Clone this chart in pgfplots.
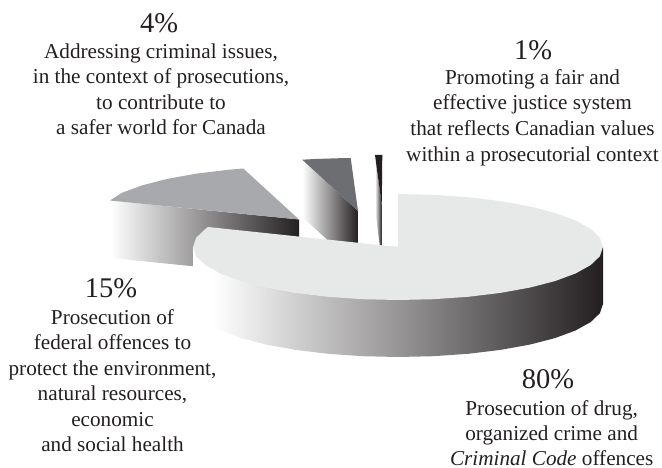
\documentclass[border=0pt]{standalone}
\usepackage{fontspec}
\setmainfont{Liberation Serif}
\usepackage{pgfplots}
\pgfplotsset{compat=1.18}
\definecolor{ink}{HTML}{231F20}
\definecolor{topbig}{HTML}{E7E8E8}
\definecolor{topfed}{HTML}{A7A9AC}
\definecolor{topcrim}{HTML}{6D6E71}
\pgfdeclarehorizontalshading{wallbig}{100bp}{color(0bp)=(white); color(27.4bp)=(white); color(75bp)=(ink); color(100bp)=(ink)}
\newcommand{\pct}[3]{\node[anchor=base,text=ink,font=\fontsize{28.5}{28.5}\selectfont,inner sep=0pt] at (axis cs:#1,#2) {#3};}
\newcommand{\lbl}[3]{\node[anchor=base,text=ink,font=\fontsize{21.2}{21.2}\selectfont,inner sep=0pt] at (axis cs:#1,#2) {#3};}
\begin{document}
\begin{tikzpicture}
\path[use as bounding box] (0pt,0pt) rectangle (662pt,468pt);
\begin{axis}[
    anchor=south west, at={(0pt,0pt)},
    width=662pt, height=468pt, scale only axis,
    xmin=0, xmax=662, ymin=0, ymax=468, y dir=reverse,
    hide axis, clip=false,
]
% 15% slice
\addplot[draw=none, left color=white, right color=ink] coordinates {
    (110,200.5) (299,219.5) (299.5,277) (111,258)
};
\addplot[draw=none, fill=topfed] coordinates {
    (299,219.5) (243.3,168.5) (228.9,169.7) (196.5,173.6) (167.2,178.9)
    (142,185.4) (121.5,193) (110,200.5)
};
% 4% slice
\addplot[draw=none, left color=white, right color=ink] coordinates {
    (302.3,159.7) (358,211) (358,268) (303.5,218)
};
\addplot[draw=none, fill=topcrim] coordinates {
    (358,211) (302.3,159.7) (315,159) (328,158.6) (340,158.2) (350.7,158)
};
% 1% slice
\addplot[draw=none, left color=white, right color=ink] coordinates {
    (375,155) (381.8,205) (381.8,262) (375.5,212)
};
\addplot[draw=none, fill=ink] coordinates {
    (375,155) (382.3,155) (381.8,205)
};
% 80% slice
\addplot[draw=none, shading=wallbig] coordinates {
    (603,247) (603,304) (599.9,313.2) (590.6,322.1) (575.5,330.5) (555,338.1)
    (529.8,344.6) (500.5,349.9) (468.1,353.8) (433.6,356.2) (398,357)
    (362.4,356.2) (327.9,353.8) (295.5,349.9) (266.2,344.6) (241,338.1)
    (220.5,330.5) (205.4,322.1) (196.1,313.2) (193,304) (193,247)
};
\addplot[draw=none, fill=topbig] coordinates {
    (398,247) (398,194) (433.6,194.8) (468.1,197.2) (500.5,201.1) (529.8,206.4)
    (555,212.9) (575.5,220.5) (590.6,228.9) (599.9,237.8) (603,247)
    (599.9,256.2) (590.6,265.1) (575.5,273.5) (555,281.1) (529.8,287.6)
    (500.5,292.9) (468.1,296.8) (433.6,299.2) (398,300) (362.4,299.2)
    (327.9,296.8) (295.5,292.9) (266.2,287.6) (241,281.1) (220.5,273.5)
    (205.4,265.1) (196.1,256.2) (193,247) (196.1,237.8) (205.4,228.9) (208,227)
};
% labels
\pct{159}{33}{4\%}
\lbl{161}{58.3}{Addressing criminal issues,}
\lbl{161}{84}{in the context of prosecutions,}
\lbl{161}{110}{to contribute to}
\lbl{161}{135}{a safer world for Canada}
\pct{533}{59.3}{1\%}
\lbl{532.5}{85}{Promoting a fair and}
\lbl{532.5}{110}{effective justice system}
\lbl{532.5}{136}{that reflects Canadian values}
\lbl{532.5}{161.7}{within a prosecutorial context}
\pct{111}{298}{15\%}
\lbl{112.5}{324}{Prosecution of}
\lbl{112.5}{349}{federal offences to}
\lbl{112.5}{375}{protect the environment,}
\lbl{112.5}{400.7}{natural resources,}
\lbl{112.5}{426.7}{economic}
\lbl{112.5}{451.7}{and social health}
\pct{548}{388}{80\%}
\lbl{551.7}{415}{Prosecution of drug,}
\lbl{551.7}{440}{organized crime and}
\lbl{551.7}{465}{\textit{Criminal Code} offences}
\end{axis}
\end{tikzpicture}
\end{document}
